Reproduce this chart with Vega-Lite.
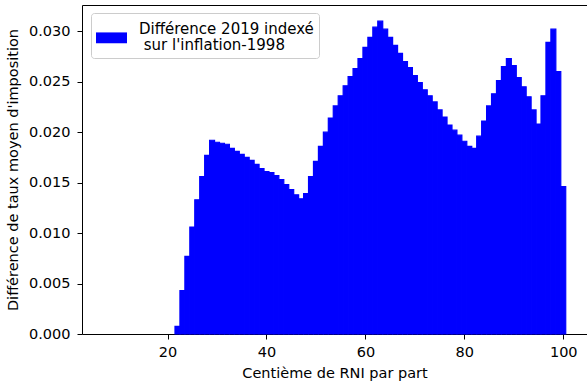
{
  "$schema": "https://vega.github.io/schema/vega-lite/v6.json",
  "autosize": {"type": "none"},
  "padding": {"left": 82, "top": 5, "right": 0, "bottom": 47},
  "width": 505,
  "height": 329,
  "background": "white",
  "config": {
    "font": "DejaVu Sans",
    "view": {"stroke": null},
    "style": {"guide-label": {"lineHeight": 16}},
    "axis": {
      "domainColor": "black", "tickColor": "black", "labelColor": "black", "titleColor": "black",
      "labelFont": "DejaVu Sans", "titleFont": "DejaVu Sans",
      "labelFontSize": 14.5, "titleFontSize": 14.5, "titleFontWeight": "normal",
      "tickSize": 5, "grid": false, "domainWidth": 1, "tickWidth": 1
    },
    "legend": {
      "labelFont": "DejaVu Sans", "labelFontSize": 15, "labelColor": "black"
    }
  },
  "data": {
    "values": [
      {"centile": 22, "diff": 0.00075, "serie": "Différence 2019 indexé\n sur l'inflation-1998"},
      {"centile": 23, "diff": 0.0043, "serie": "Différence 2019 indexé\n sur l'inflation-1998"},
      {"centile": 24, "diff": 0.0077, "serie": "Différence 2019 indexé\n sur l'inflation-1998"},
      {"centile": 25, "diff": 0.0106, "serie": "Différence 2019 indexé\n sur l'inflation-1998"},
      {"centile": 26, "diff": 0.0133, "serie": "Différence 2019 indexé\n sur l'inflation-1998"},
      {"centile": 27, "diff": 0.0156, "serie": "Différence 2019 indexé\n sur l'inflation-1998"},
      {"centile": 28, "diff": 0.0177, "serie": "Différence 2019 indexé\n sur l'inflation-1998"},
      {"centile": 29, "diff": 0.0192, "serie": "Différence 2019 indexé\n sur l'inflation-1998"},
      {"centile": 30, "diff": 0.0190, "serie": "Différence 2019 indexé\n sur l'inflation-1998"},
      {"centile": 31, "diff": 0.0189, "serie": "Différence 2019 indexé\n sur l'inflation-1998"},
      {"centile": 32, "diff": 0.0188, "serie": "Différence 2019 indexé\n sur l'inflation-1998"},
      {"centile": 33, "diff": 0.0184, "serie": "Différence 2019 indexé\n sur l'inflation-1998"},
      {"centile": 34, "diff": 0.0181, "serie": "Différence 2019 indexé\n sur l'inflation-1998"},
      {"centile": 35, "diff": 0.0178, "serie": "Différence 2019 indexé\n sur l'inflation-1998"},
      {"centile": 36, "diff": 0.0175, "serie": "Différence 2019 indexé\n sur l'inflation-1998"},
      {"centile": 37, "diff": 0.0172, "serie": "Différence 2019 indexé\n sur l'inflation-1998"},
      {"centile": 38, "diff": 0.0168, "serie": "Différence 2019 indexé\n sur l'inflation-1998"},
      {"centile": 39, "diff": 0.0164, "serie": "Différence 2019 indexé\n sur l'inflation-1998"},
      {"centile": 40, "diff": 0.0161, "serie": "Différence 2019 indexé\n sur l'inflation-1998"},
      {"centile": 41, "diff": 0.0160, "serie": "Différence 2019 indexé\n sur l'inflation-1998"},
      {"centile": 42, "diff": 0.0157, "serie": "Différence 2019 indexé\n sur l'inflation-1998"},
      {"centile": 43, "diff": 0.0153, "serie": "Différence 2019 indexé\n sur l'inflation-1998"},
      {"centile": 44, "diff": 0.0148, "serie": "Différence 2019 indexé\n sur l'inflation-1998"},
      {"centile": 45, "diff": 0.0143, "serie": "Différence 2019 indexé\n sur l'inflation-1998"},
      {"centile": 46, "diff": 0.0138, "serie": "Différence 2019 indexé\n sur l'inflation-1998"},
      {"centile": 47, "diff": 0.0134, "serie": "Différence 2019 indexé\n sur l'inflation-1998"},
      {"centile": 48, "diff": 0.0139, "serie": "Différence 2019 indexé\n sur l'inflation-1998"},
      {"centile": 49, "diff": 0.0156, "serie": "Différence 2019 indexé\n sur l'inflation-1998"},
      {"centile": 50, "diff": 0.0171, "serie": "Différence 2019 indexé\n sur l'inflation-1998"},
      {"centile": 51, "diff": 0.0186, "serie": "Différence 2019 indexé\n sur l'inflation-1998"},
      {"centile": 52, "diff": 0.0200, "serie": "Différence 2019 indexé\n sur l'inflation-1998"},
      {"centile": 53, "diff": 0.0214, "serie": "Différence 2019 indexé\n sur l'inflation-1998"},
      {"centile": 54, "diff": 0.0226, "serie": "Différence 2019 indexé\n sur l'inflation-1998"},
      {"centile": 55, "diff": 0.0236, "serie": "Différence 2019 indexé\n sur l'inflation-1998"},
      {"centile": 56, "diff": 0.0246, "serie": "Différence 2019 indexé\n sur l'inflation-1998"},
      {"centile": 57, "diff": 0.0255, "serie": "Différence 2019 indexé\n sur l'inflation-1998"},
      {"centile": 58, "diff": 0.0263, "serie": "Différence 2019 indexé\n sur l'inflation-1998"},
      {"centile": 59, "diff": 0.0273, "serie": "Différence 2019 indexé\n sur l'inflation-1998"},
      {"centile": 60, "diff": 0.0284, "serie": "Différence 2019 indexé\n sur l'inflation-1998"},
      {"centile": 61, "diff": 0.0294, "serie": "Différence 2019 indexé\n sur l'inflation-1998"},
      {"centile": 62, "diff": 0.0304, "serie": "Différence 2019 indexé\n sur l'inflation-1998"},
      {"centile": 63, "diff": 0.0310, "serie": "Différence 2019 indexé\n sur l'inflation-1998"},
      {"centile": 64, "diff": 0.0302, "serie": "Différence 2019 indexé\n sur l'inflation-1998"},
      {"centile": 65, "diff": 0.0294, "serie": "Différence 2019 indexé\n sur l'inflation-1998"},
      {"centile": 66, "diff": 0.0286, "serie": "Différence 2019 indexé\n sur l'inflation-1998"},
      {"centile": 67, "diff": 0.0278, "serie": "Différence 2019 indexé\n sur l'inflation-1998"},
      {"centile": 68, "diff": 0.0270, "serie": "Différence 2019 indexé\n sur l'inflation-1998"},
      {"centile": 69, "diff": 0.0264, "serie": "Différence 2019 indexé\n sur l'inflation-1998"},
      {"centile": 70, "diff": 0.0256, "serie": "Différence 2019 indexé\n sur l'inflation-1998"},
      {"centile": 71, "diff": 0.0249, "serie": "Différence 2019 indexé\n sur l'inflation-1998"},
      {"centile": 72, "diff": 0.0242, "serie": "Différence 2019 indexé\n sur l'inflation-1998"},
      {"centile": 73, "diff": 0.0236, "serie": "Différence 2019 indexé\n sur l'inflation-1998"},
      {"centile": 74, "diff": 0.0230, "serie": "Différence 2019 indexé\n sur l'inflation-1998"},
      {"centile": 75, "diff": 0.0222, "serie": "Différence 2019 indexé\n sur l'inflation-1998"},
      {"centile": 76, "diff": 0.0215, "serie": "Différence 2019 indexé\n sur l'inflation-1998"},
      {"centile": 77, "diff": 0.0207, "serie": "Différence 2019 indexé\n sur l'inflation-1998"},
      {"centile": 78, "diff": 0.0202, "serie": "Différence 2019 indexé\n sur l'inflation-1998"},
      {"centile": 79, "diff": 0.0197, "serie": "Différence 2019 indexé\n sur l'inflation-1998"},
      {"centile": 80, "diff": 0.0191, "serie": "Différence 2019 indexé\n sur l'inflation-1998"},
      {"centile": 81, "diff": 0.0186, "serie": "Différence 2019 indexé\n sur l'inflation-1998"},
      {"centile": 82, "diff": 0.0184, "serie": "Différence 2019 indexé\n sur l'inflation-1998"},
      {"centile": 83, "diff": 0.0196, "serie": "Différence 2019 indexé\n sur l'inflation-1998"},
      {"centile": 84, "diff": 0.0211, "serie": "Différence 2019 indexé\n sur l'inflation-1998"},
      {"centile": 85, "diff": 0.0226, "serie": "Différence 2019 indexé\n sur l'inflation-1998"},
      {"centile": 86, "diff": 0.0238, "serie": "Différence 2019 indexé\n sur l'inflation-1998"},
      {"centile": 87, "diff": 0.0251, "serie": "Différence 2019 indexé\n sur l'inflation-1998"},
      {"centile": 88, "diff": 0.0265, "serie": "Différence 2019 indexé\n sur l'inflation-1998"},
      {"centile": 89, "diff": 0.0273, "serie": "Différence 2019 indexé\n sur l'inflation-1998"},
      {"centile": 90, "diff": 0.0266, "serie": "Différence 2019 indexé\n sur l'inflation-1998"},
      {"centile": 91, "diff": 0.0254, "serie": "Différence 2019 indexé\n sur l'inflation-1998"},
      {"centile": 92, "diff": 0.0245, "serie": "Différence 2019 indexé\n sur l'inflation-1998"},
      {"centile": 93, "diff": 0.0235, "serie": "Différence 2019 indexé\n sur l'inflation-1998"},
      {"centile": 94, "diff": 0.0222, "serie": "Différence 2019 indexé\n sur l'inflation-1998"},
      {"centile": 95, "diff": 0.0208, "serie": "Différence 2019 indexé\n sur l'inflation-1998"},
      {"centile": 96, "diff": 0.0236, "serie": "Différence 2019 indexé\n sur l'inflation-1998"},
      {"centile": 97, "diff": 0.0289, "serie": "Différence 2019 indexé\n sur l'inflation-1998"},
      {"centile": 98, "diff": 0.0302, "serie": "Différence 2019 indexé\n sur l'inflation-1998"},
      {"centile": 99, "diff": 0.0260, "serie": "Différence 2019 indexé\n sur l'inflation-1998"},
      {"centile": 100, "diff": 0.0146, "serie": "Différence 2019 indexé\n sur l'inflation-1998"}
    ]
  },
  "transform": [
    {"calculate": "datum.centile - 0.5", "as": "bord_gauche"},
    {"calculate": "datum.centile + 0.5", "as": "bord_droit"}
  ],
  "layer": [
    {
      "mark": {"type": "bar", "stroke": "#0000ff", "strokeWidth": 1.2, "opacity": 1, "fillOpacity": 1, "strokeOpacity": 1},
      "encoding": {
        "x": {
          "field": "bord_gauche", "type": "quantitative",
          "scale": {"domain": [2.7, 104.8], "nice": false, "zero": false},
          "axis": {"values": [20, 40, 60, 80, 100], "format": "d", "title": "Centième de RNI par part", "labelPadding": 6, "titlePadding": 8}
        },
        "x2": {"field": "bord_droit"},
        "y": {
          "field": "diff", "type": "quantitative",
          "scale": {"domain": [0, 0.0326], "nice": false},
          "axis": {"values": [0, 0.005, 0.01, 0.015, 0.02, 0.025, 0.03], "format": ".3f", "title": "Différence de taux moyen d'imposition", "labelPadding": 7, "titlePadding": 8}
        },
        "y2": {"datum": 0},
        "color": {
          "field": "serie", "type": "nominal",
          "scale": {"range": ["#0000ff"]},
          "legend": {
            "title": null,
            "orient": "none",
            "legendX": 9,
            "legendY": 8,
            "labelExpr": "split(replace(datum.label, '\\n ', '\\n\u200b\u00a0'), '\\n')",
            "labelBaseline": "alphabetic",
            "symbolType": "M-1,-0.07H1V0.63H-1Z",
            "symbolSize": 961,
            "symbolStrokeWidth": 0,
            "symbolOpacity": 1,
            "labelOffset": 12,
            "padding": 5,
            "strokeColor": "#cccccc",
            "fillColor": "white",
            "cornerRadius": 3,
            "labelLimit": 400
          }
        }
      }
    },
    {
      "mark": {"type": "tick", "opacity": 0},
      "encoding": {
        "x": {
          "field": "centile", "type": "quantitative",
          "scale": {"domain": [2.7, 104.8], "nice": false, "zero": false},
          "axis": {"orient": "top", "labels": false, "ticks": false, "title": null, "domain": true}
        }
      }
    }
  ],
  "resolve": {"scale": {"x": "independent"}}
}
